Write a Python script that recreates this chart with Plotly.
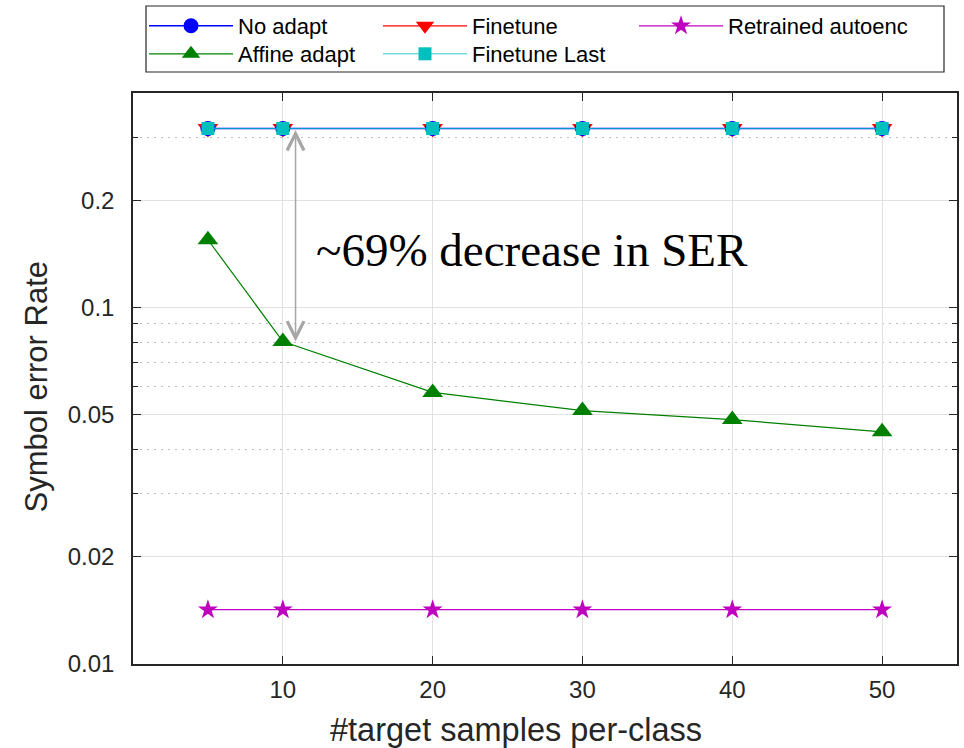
import numpy as np
import plotly.graph_objects as go

# ---- data ----
samples = [5, 10, 20, 30, 40, 50]
no_adapt = [0.318, 0.318, 0.318, 0.318, 0.318, 0.318]
finetune = [0.318, 0.318, 0.318, 0.318, 0.318, 0.318]
finetune_last = [0.318, 0.318, 0.318, 0.318, 0.318, 0.318]
affine_adapt = [0.155, 0.0803, 0.0578, 0.0514, 0.0485, 0.0448]
retrained = [0.0142, 0.0142, 0.0142, 0.0142, 0.0142, 0.0142]

x_ticks = [10, 20, 30, 40, 50]
y_ticks = [0.01, 0.02, 0.05, 0.1, 0.2]
y_tick_text = ["0.01", "0.02", "0.05", "0.1", "0.2"]
y_minor = [0.03, 0.04, 0.06, 0.07, 0.08, 0.09, 0.3]

annot_text = "~69% decrease in SER"
x_title = "#target samples per-class"
y_title = "Symbol error Rate"

SANS = "Liberation Sans, Arial, Helvetica, sans-serif"
SERIF = "Liberation Serif, Times New Roman, serif"
AX = "#262626"

# figure geometry (pixels)
W, H = 964, 748
L, R, T, B = 133, 7, 93, 84
PW, PH = W - L - R, H - T - B


def px_x(p):
    return (p - L) / PW


def px_y(p):
    return (H - B - p) / PH


fig = go.Figure()


def add(name, y, color, symbol, size, legend, lw=1.2):
    fig.add_trace(go.Scatter(
        x=samples, y=y, name=name, mode="lines+markers",
        line=dict(color=color, width=lw),
        marker=dict(symbol=symbol, size=size, color=color, line=dict(width=0)),
        legend=legend,
    ))


# drawing order (bottom to top)
add("Finetune", finetune, "#FF0000", "triangle-down", 18, "legend2")
add("No adapt", no_adapt, "#0000FF", "circle", 15, "legend", lw=1.5)
add("Finetune Last", finetune_last, "#00BFBF", "square", 13, "legend5", lw=0.8)
add("Affine adapt", affine_adapt, "#008000", "triangle-up", 18, "legend4")
add("Retrained autoenc", retrained, "#BF00BF", "star", 15, "legend3")

# double-headed arrow
arrow_x = 10.85
fig.add_annotation(
    x=arrow_x, y=np.log10(affine_adapt[1]), ax=arrow_x, ay=np.log10(no_adapt[1]),
    xref="x", yref="y", axref="x", ayref="y", text="", showarrow=True,
    arrowhead=5, startarrowhead=5, arrowside="end+start",
    arrowwidth=1.5, arrowsize=2.2, startarrowsize=2.2, arrowcolor="#A6A6A6",
)
fig.add_annotation(
    x=26.6, y=np.log10(0.145), xref="x", yref="y", text=annot_text, showarrow=False,
    font=dict(family=SERIF, size=47, color="#000000"),
    xanchor="center", yanchor="middle",
)

# axis titles
fig.add_annotation(
    x=px_x(515.7), y=px_y(730), xref="paper", yref="paper",
    text=x_title, showarrow=False, font=dict(family=SANS, size=32.5, color=AX),
    xanchor="center", yanchor="middle",
)
fig.add_annotation(
    x=px_x(36), y=px_y(386.5), xref="paper", yref="paper",
    text=y_title, showarrow=False, textangle=-90, font=dict(family=SANS, size=31, color=AX),
    xanchor="center", yanchor="middle",
)

# legend border
fig.add_shape(type="rect", xref="paper", yref="paper",
              x0=px_x(146), x1=px_x(944), y0=px_y(72), y1=px_y(6),
              line=dict(color=AX, width=1.2), fillcolor="rgba(0,0,0,0)", layer="above")


def leg(xpx, ypx):
    return dict(
        orientation="v", x=px_x(xpx), y=px_y(ypx), xanchor="left", yanchor="top",
        font=dict(family=SANS, size=22, color="#000000"),
        itemwidth=84, bgcolor="rgba(0,0,0,0)", borderwidth=0,
    )


row1, row2 = 5.0, 33.0
col1, col2, col3 = 144, 378, 634

fig.update_layout(
    width=W, height=H,
    margin=dict(l=L, r=R, t=T, b=B, autoexpand=False),
    paper_bgcolor="white", plot_bgcolor="white",
    font=dict(family=SANS, color=AX),
    showlegend=True,
    legend=leg(col1, row1),
    legend2=leg(col2, row1),
    legend3=leg(col3, row1),
    legend4=leg(col1, row2),
    legend5=leg(col2, row2),
)

fig.update_xaxes(
    range=[0, 55], tickmode="array", tickvals=x_ticks,
    ticks="inside", ticklen=8, tickwidth=1.2, tickcolor=AX,
    showline=True, linecolor=AX, linewidth=1.5, mirror="ticks",
    showgrid=True, gridcolor="#E1E1E1", gridwidth=1, zeroline=False,
    tickfont=dict(family=SANS, size=24, color=AX), ticklabelstandoff=3,
)
fig.update_yaxes(
    type="log", range=[-2, np.log10(0.4)], tickmode="array",
    tickvals=y_ticks, ticktext=y_tick_text,
    ticks="inside", ticklen=8, tickwidth=1.2, tickcolor=AX,
    showline=True, linecolor=AX, linewidth=1.5, mirror="ticks",
    showgrid=True, gridcolor="#E1E1E1", gridwidth=1, zeroline=False,
    tickfont=dict(family=SANS, size=24, color=AX), ticklabelstandoff=12,
    minor=dict(tickvals=y_minor, ticks="inside", ticklen=5, tickcolor=AX,
               showgrid=True, gridcolor="#BDBDBD", griddash="1.5px,5.5px", gridwidth=1),
)

fig.write_html("out.html")
